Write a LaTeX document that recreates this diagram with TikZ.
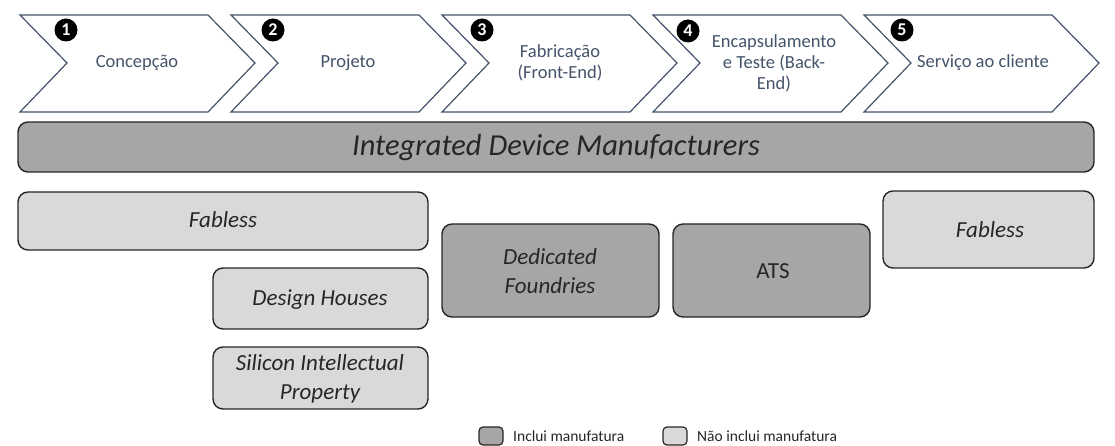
\documentclass[tikz,border=0pt]{standalone}
\usepackage{fontspec}
\setmainfont{Carlito}
\definecolor{chev}{HTML}{44546A}
\definecolor{dark}{HTML}{A6A6A6}
\definecolor{light}{HTML}{D9D9D9}
\definecolor{edge}{HTML}{262626}
\begin{document}
\begin{tikzpicture}[x=1pt,y=-1pt,
  chevshape/.style={draw=chev,line width=1.2pt,fill=white},
  chevtext/.style={text=chev,font=\fontsize{18.5}{21}\selectfont,align=center,inner sep=0pt},
  num/.style={circle,fill=black,text=white,minimum size=23pt,inner sep=0pt,font=\fontsize{18}{18}\selectfont\bfseries},
  darkbox/.style={draw=edge,line width=1.4pt,fill=dark,rounded corners=10pt},
  lightbox/.style={draw=edge,line width=1.4pt,fill=light,rounded corners=10pt},
  boxtext/.style={text=black!85,font=\fontsize{23}{29}\selectfont\itshape,align=center,inner sep=0pt},
  legbox/.style={draw=edge,line width=1.2pt,rounded corners=4pt},
  legtext/.style={text=black!85,font=\fontsize{15.5}{18}\selectfont,anchor=west,inner sep=0pt}
]
\useasboundingbox (0,0) rectangle (1115,446);
% chevrons
\foreach \x in {20,231,442,653,864}{
  \draw[chevshape] (\x,15) -- (\x+188,15) -- (\x+235,63) -- (\x+188,112) -- (\x,112) -- (\x+47,63) -- cycle;
}
\node[chevtext] (t1) at (137,63) {Concepção};
\node[chevtext] (t2) at (348,63) {Projeto};
\node[chevtext] (t3) at (560,63) {Fabricação\\(Front-End)};
\node[chevtext] (t4) at (774,63) {Encapsulamento\\e Teste (Back-\\End)};
\node[chevtext] (t5) at (983,63) {Serviço ao cliente};
\node[num] (n1) at (66,30) {1};
\node[num] (n2) at (273,30) {2};
\node[num] (n3) at (482,30) {3};
\node[num] (n4) at (688,31) {4};
\node[num] (n5) at (902,30) {5};
% IDM bar
\draw[darkbox] (18,122) rectangle (1094,172);
\node[boxtext,font=\fontsize{30.5}{34}\selectfont\itshape] (idm) at (556,148) {Integrated Device Manufacturers};
% Fabless left
\draw[lightbox] (18,192) rectangle (428,250);
\node[boxtext] (fab1) at (223,220) {Fabless};
% Design Houses
\draw[lightbox] (213,268) rectangle (428,329);
\node[boxtext] (dh) at (320,300) {Design Houses};
% Silicon IP
\draw[lightbox] (213,347) rectangle (428,409);
\node[boxtext] (sip) at (320,379) {Silicon Intellectual\\Property};
% Dedicated Foundries
\draw[darkbox] (442,224) rectangle (659,317);
\node[boxtext] (df) at (550,271) {Dedicated\\Foundries};
% ATS
\draw[darkbox] (673,224) rectangle (870,317);
\node[boxtext,font=\fontsize{23}{29}\selectfont] (ats) at (773,271) {ATS};
% Fabless right
\draw[lightbox] (883,191) rectangle (1094,268);
\node[boxtext] (fab2) at (990,230) {Fabless};
% legend
\draw[legbox,fill=dark] (479,427) rectangle (503,445);
\node[legtext] (l1) at (513,436) {Inclui manufatura};
\draw[legbox,fill=light] (663,427) rectangle (687,445);
\node[legtext] (l2) at (697,436) {Não inclui manufatura};
\end{tikzpicture}
\end{document}
